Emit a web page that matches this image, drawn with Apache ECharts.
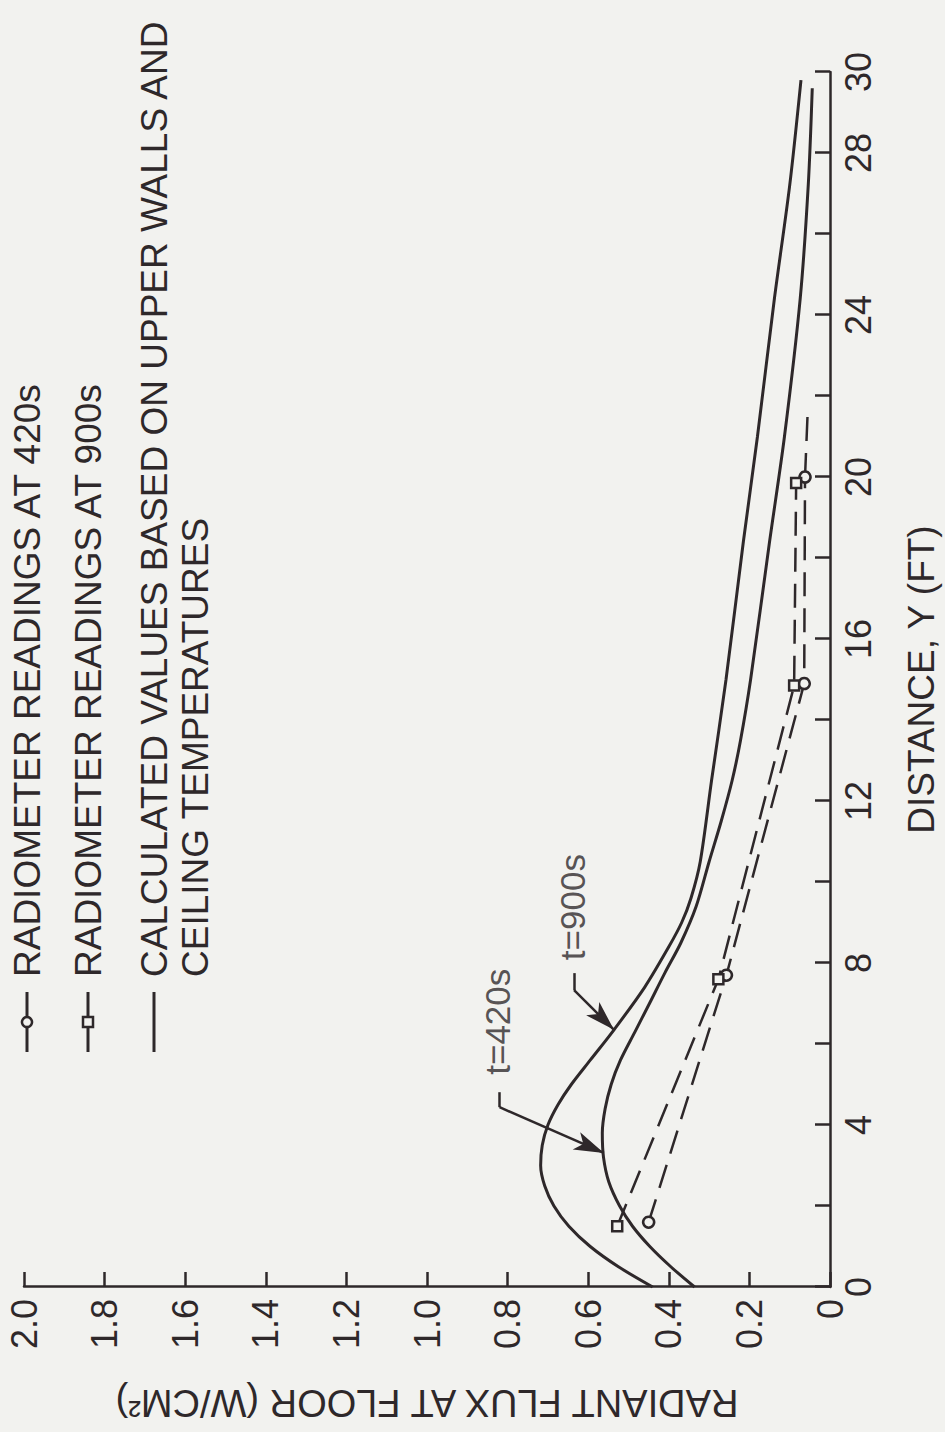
<!DOCTYPE html>
<html>
<head>
<meta charset="utf-8">
<script src="https://cdn.jsdelivr.net/npm/echarts@6/dist/echarts.min.js"></script>
<style>
  html, body { margin: 0; padding: 0; width: 945px; height: 1432px; overflow: hidden; background: #f2f2ef; }
  /* chart is drawn upright, then turned a quarter turn like the scanned page */
  #chart {
    position: absolute; left: 0; top: 0;
    width: 1432px; height: 945px;
    transform-origin: 0 0;
    transform: translateY(1432px) rotate(-90deg);
  }
</style>
</head>
<body>
<div id="chart"></div>
<script>
// radiometer readings (distance ft, flux W/cm2)
const read420Dist = [1.6, 7.7, 14.9, 20.0]
const read420Flux = [0.45, 0.257, 0.064, 0.062]
const read900Dist = [1.5, 7.6, 14.85, 19.85]
const read900Flux = [0.528, 0.277, 0.089, 0.084]
// dashed tail past the last reading
const tail420Dist = [20.0, 21.7]
const tail420Flux = [0.062, 0.055]

// calculated curves
const calc900Dist = [0, 0.5, 1.0, 1.5, 2.0, 2.5, 3.0, 3.5, 4.0, 4.5, 5.0, 5.6, 6.35, 7.4, 8.4, 9.0, 9.6, 10.5, 12.5, 15, 18.4, 21, 24.4, 27.2, 29.8]
const calc900Flux = [0.44, 0.525, 0.595, 0.648, 0.685, 0.708, 0.718, 0.714, 0.70, 0.675, 0.642, 0.595, 0.536, 0.46, 0.40, 0.368, 0.345, 0.322, 0.294, 0.258, 0.215, 0.18, 0.138, 0.10, 0.072]
const calc420Dist = [0, 0.5, 1.0, 1.5, 2.0, 2.6, 3.2, 3.8, 4.4, 5.0, 5.6, 6.3, 7.0, 7.75, 8.5, 9.4, 10.5, 11.5, 12.5, 13.5, 15, 18.4, 21, 24.4, 27.2, 29.6]
const calc420Flux = [0.336, 0.395, 0.447, 0.49, 0.522, 0.549, 0.562, 0.565, 0.558, 0.543, 0.52, 0.484, 0.448, 0.41, 0.37, 0.332, 0.30, 0.27, 0.243, 0.222, 0.197, 0.15, 0.113, 0.074, 0.054, 0.044]

// curve labels: text, anchor, leader hook, arrow tip
const labelText = ['t=420s', 't=900s']
const labelPos = [[6.55, 0.825], [9.38, 0.64]]
const leaderStart = [[4.81, 0.82], [7.75, 0.635]]
const leaderBend = [[4.44, 0.82], [7.33, 0.635]]
const leaderTip = [[3.31, 0.561], [6.35, 0.536]]

const INK = '#2e282a'
const BG = '#f2f2ef'
const FONT = '"Liberation Sans", Arial, sans-serif'

function pairs(xs, ys) {
  return xs.map((x, i) => [x, ys[i]])
}

const chart = echarts.init(document.getElementById('chart'), null, { renderer: 'svg' })

const leaderLines = []
labelText.forEach((t, i) => {
  leaderLines.push([{ coord: leaderStart[i] }, { coord: leaderBend[i] }])
  leaderLines.push([{ coord: leaderBend[i] }, { coord: leaderTip[i], symbol: 'arrow', symbolSize: [14, 30] }])
})

const option = {
  animation: false,
  backgroundColor: BG,
  textStyle: { fontFamily: FONT, color: INK },
  grid: { left: 145, top: 24, width: 1215, height: 810 },
  xAxis: {
    type: 'value',
    min: 0,
    max: 30,
    interval: 2,
    name: 'DISTANCE, Y (FT)',
    nameLocation: 'middle',
    nameGap: 73,
    nameTextStyle: { fontSize: 37, color: INK, fontFamily: FONT },
    splitLine: { show: false },
    axisLine: { lineStyle: { color: INK, width: 2.5 } },
    axisTick: { inside: true, length: 15, lineStyle: { color: INK, width: 2.5 } },
    axisLabel: {
      fontSize: 36,
      color: INK,
      margin: 10,
      fontFamily: FONT,
      formatter: function (v) {
        return v % 4 === 0 || v === 30 ? String(v) : ''
      }
    }
  },
  yAxis: {
    type: 'value',
    min: 0,
    max: 2,
    interval: 0.2,
    name: 'RADIANT FLUX AT FLOOR (W/CM²)',
    nameLocation: 'middle',
    nameGap: 97,
    nameTextStyle: { fontSize: 38, color: INK, fontFamily: FONT },
    splitLine: { show: false },
    axisLine: { show: true, lineStyle: { color: INK, width: 2.5 } },
    axisTick: { inside: true, length: 15, lineStyle: { color: INK, width: 2.5 } },
    axisLabel: {
      fontSize: 36,
      color: INK,
      margin: 12,
      fontFamily: FONT,
      formatter: function (v) {
        return v === 0 ? '0' : Number(v).toFixed(1)
      }
    }
  },
  series: [
    {
      name: 'CALCULATED 900s',
      type: 'line',
      smooth: 0.3,
      symbol: 'none',
      data: pairs(calc900Dist, calc900Flux),
      lineStyle: { color: INK, width: 3 }
    },
    {
      name: 'CALCULATED 420s',
      type: 'line',
      smooth: 0.3,
      symbol: 'none',
      data: pairs(calc420Dist, calc420Flux),
      lineStyle: { color: INK, width: 3 }
    },
    {
      name: 'RADIOMETER READINGS AT 420s',
      type: 'line',
      symbol: 'circle',
      symbolSize: 11,
      data: pairs(read420Dist, read420Flux),
      lineStyle: { color: INK, width: 2.5, type: [24, 12] },
      itemStyle: { color: BG, borderColor: INK, borderWidth: 2.5 }
    },
    {
      name: 'tail 420s',
      type: 'line',
      symbol: 'none',
      data: pairs(tail420Dist, tail420Flux),
      lineStyle: { color: INK, width: 2.5, type: [24, 12] }
    },
    {
      name: 'RADIOMETER READINGS AT 900s',
      type: 'line',
      symbol: 'rect',
      symbolSize: 10,
      data: pairs(read900Dist, read900Flux),
      lineStyle: { color: INK, width: 2.5, type: [24, 12] },
      itemStyle: { color: BG, borderColor: INK, borderWidth: 2.5 }
    },
    {
      name: 'curve labels',
      type: 'scatter',
      symbolSize: 0,
      silent: true,
      data: labelPos.map((p, i) => ({ value: p, name: labelText[i] })),
      label: {
        show: true,
        position: 'inside',
        formatter: '{b}',
        fontSize: 35,
        color: INK,
        fontFamily: FONT
      },
      markLine: {
        silent: true,
        symbol: ['none', 'none'],
        label: { show: false },
        lineStyle: { color: INK, width: 2.5, type: 'solid' },
        data: leaderLines
      }
    }
  ],
  // legend block at the top of the upright chart
  graphic: [
    { type: 'line', shape: { x1: 380, y1: 27, x2: 440, y2: 27 }, style: { stroke: INK, lineWidth: 3 } },
    { type: 'circle', shape: { cx: 410, cy: 27, r: 5 }, style: { fill: BG, stroke: INK, lineWidth: 2.5 } },
    { type: 'text', x: 455, y: 27, style: { text: 'RADIOMETER READINGS AT 420s', font: '37px ' + FONT, fill: INK, verticalAlign: 'middle' } },
    { type: 'line', shape: { x1: 380, y1: 88, x2: 440, y2: 88 }, style: { stroke: INK, lineWidth: 3 } },
    { type: 'rect', shape: { x: 405, y: 83, width: 10, height: 10 }, style: { fill: BG, stroke: INK, lineWidth: 2.5 } },
    { type: 'text', x: 455, y: 88, style: { text: 'RADIOMETER READINGS AT 900s', font: '37px ' + FONT, fill: INK, verticalAlign: 'middle' } },
    { type: 'line', shape: { x1: 380, y1: 154, x2: 440, y2: 154 }, style: { stroke: INK, lineWidth: 3 } },
    { type: 'text', x: 455, y: 154, style: { text: 'CALCULATED VALUES BASED ON UPPER WALLS AND', font: '37px ' + FONT, fill: INK, verticalAlign: 'middle' } },
    { type: 'text', x: 455, y: 195, style: { text: 'CEILING TEMPERATURES', font: '37px ' + FONT, fill: INK, verticalAlign: 'middle' } }
  ]
}

chart.setOption(option)
</script>
</body>
</html>
